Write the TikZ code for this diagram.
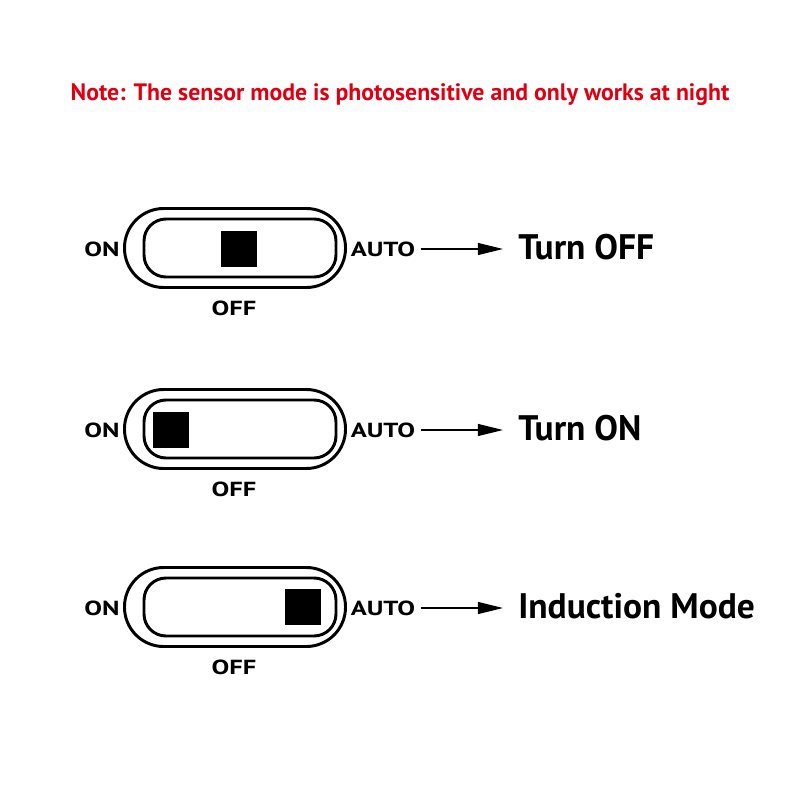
\documentclass[tikz,border=0pt]{standalone}
\usepackage{fontspec}
\setmainfont{PT Sans}
\newfontfamily\widefont[FakeStretch=1.3]{PT Sans}
\usetikzlibrary{arrows.meta}
\definecolor{notered}{RGB}{222,0,18}

\begin{document}
\begin{tikzpicture}[x=0.025cm,y=-0.025cm,
    every node/.style={inner sep=0pt,font=\bfseries},
    swline/.style={line width=2.1pt},
    knob/.style={fill=black},
    side/.style={font=\widefont\fontsize{14.5}{16}\selectfont\bfseries},
    result/.style={anchor=base west,font=\fontsize{25.2}{28}\selectfont\bfseries},
    arr/.style={-{Triangle[length=17.8pt,width=8.5pt]},line width=1pt,shorten <=3.6pt,shorten >=10.7pt}]
                \useasboundingbox (0,0) rectangle (800,801);

                % Note on top
                \node[anchor=base, text=notered, font=\fontsize{16.9}{20}\selectfont\bfseries] (note) at (400,101)
                    {Note: The sensor mode is photosensitive and only works at night};

                % Switch 1: knob in the middle
                \draw[swline, rounded corners=0.98cm] (124.5,208.5) rectangle (345.5,287.5);
                \draw[swline, rounded corners=0.55cm] (144,219) rectangle (336,277);
                \fill[knob] (220.5,230.5) rectangle (256.5,266.5);
                \node[side] (on1) at (102,249) {ON};
                \node[side] (auto1) at (383,249) {AUTO};
                \node[side] (off1) at (234,308) {OFF};
                \node[result] (res1) at (518,259.5) {Turn OFF};
                \draw[arr] (auto1.east) -- (auto1.east -| res1.west);

                % Switch 2: knob left
                \draw[swline, rounded corners=0.98cm] (124.5,389.5) rectangle (345.5,468.5);
                \draw[swline, rounded corners=0.55cm] (144,400) rectangle (336,458);
                \fill[knob] (153,412) rectangle (189,448);
                \node[side] (on2) at (102,430) {ON};
                \node[side] (auto2) at (383,430) {AUTO};
                \node[side] (off2) at (234,489) {OFF};
                \node[result] (res2) at (518,440.5) {Turn ON};
                \draw[arr] (auto2.east) -- (auto2.east -| res2.west);

                % Switch 3: knob right
                \draw[swline, rounded corners=0.98cm] (124.5,567.5) rectangle (345.5,646.5);
                \draw[swline, rounded corners=0.55cm] (144,578) rectangle (336,636);
                \fill[knob] (285,589) rectangle (321,625);
                \node[side] (on3) at (102,608) {ON};
                \node[side] (auto3) at (383,608) {AUTO};
                \node[side] (off3) at (234,667) {OFF};
                \node[result] (res3) at (518,618.5) {Induction Mode};
                \draw[arr] (auto3.east) -- (auto3.east -| res3.west);
            \end{tikzpicture}
\end{document}
